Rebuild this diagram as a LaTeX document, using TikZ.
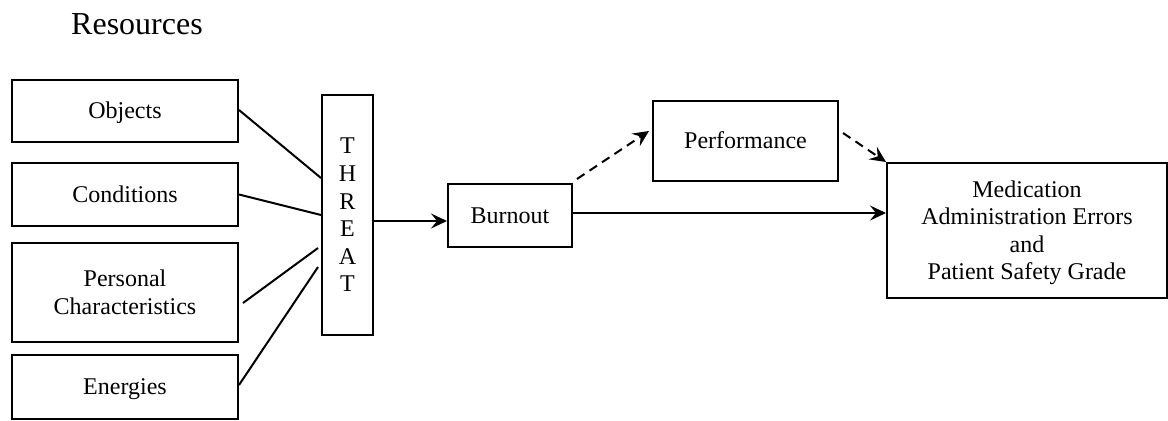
\documentclass[tikz,border=0pt]{standalone}
\usepackage{fontspec}
\setmainfont{Liberation Serif}
\usetikzlibrary{arrows.meta}
\newcommand\lowr[1]{\raisebox{-1.2pt}[\height][\depth]{\begin{tabular}{@{}c@{}}#1\end{tabular}}}
\begin{document}
\begin{tikzpicture}[x=0.5pt,y=-0.5pt,
  box/.style={draw,line width=1pt,inner sep=0pt,align=center,
    font=\fontsize{12}{13.8}\selectfont},
  link/.style={line width=1pt},
  arr/.style={line width=1pt,-{Stealth[length=8pt,width=7.5pt,inset=3pt]}},
  dsh/.style={arr,dash pattern=on 4.5pt off 3pt}]
\useasboundingbox (0,0) rectangle (1168,420);
\node[font=\fontsize{16}{19}\selectfont] (res) at (137,24) {Resources};
\node[box,minimum width=113pt,minimum height=31pt] (obj) at (125,111) {\lowr{Objects}};
\node[box,minimum width=113pt,minimum height=31.5pt] (con) at (125,194.5) {\lowr{Conditions}};
\node[box,minimum width=113pt,minimum height=49.5pt] (per) at (125,292.5) {\lowr{Personal\\Characteristics}};
\node[box,minimum width=113pt,minimum height=32pt] (ene) at (125,387) {\lowr{Energies}};
\node[box,minimum width=25.5pt,minimum height=120pt] (thr) at (347.5,215) {\lowr{T\\H\\R\\E\\A\\T}};
\node[box,minimum width=62pt,minimum height=31.5pt] (bur) at (510,215.5) {\lowr{Burnout}};
\node[box,minimum width=92.5pt,minimum height=40pt] (perf) at (745.5,141) {\lowr{Performance}};
\node[box,minimum width=140pt,minimum height=67.5pt] (med) at (1027,230.5) {\lowr{Medication\\Administration Errors\\and\\Patient Safety Grade}};
\draw[link] ([yshift=0.5pt]obj.east) -- ([yshift=18.5pt]thr.west);
\draw[link] (con.east) -- (thr.west);
\draw[link] ([xshift=2pt,yshift=-5.25pt]per.east) -- ([xshift=-1.5pt,yshift=-16.5pt]thr.west);
\draw[link] ([yshift=1pt]ene.east) -- ([xshift=-1.5pt,yshift=-26pt]thr.west);
\draw[arr] ([yshift=-3pt]thr.east) -- ([yshift=-3pt]thr.east -| bur.west);
\draw[arr] ([yshift=1.25pt]bur.east) -- ([yshift=1.25pt]bur.east -| med.west);
\draw[dsh] ([xshift=2pt,yshift=2pt]bur.north east) -- ([xshift=-1.5pt,yshift=5pt]perf.west);
\draw[dsh] ([xshift=2pt,yshift=4pt]perf.east) -- (med.north west);
\end{tikzpicture}
\end{document}
